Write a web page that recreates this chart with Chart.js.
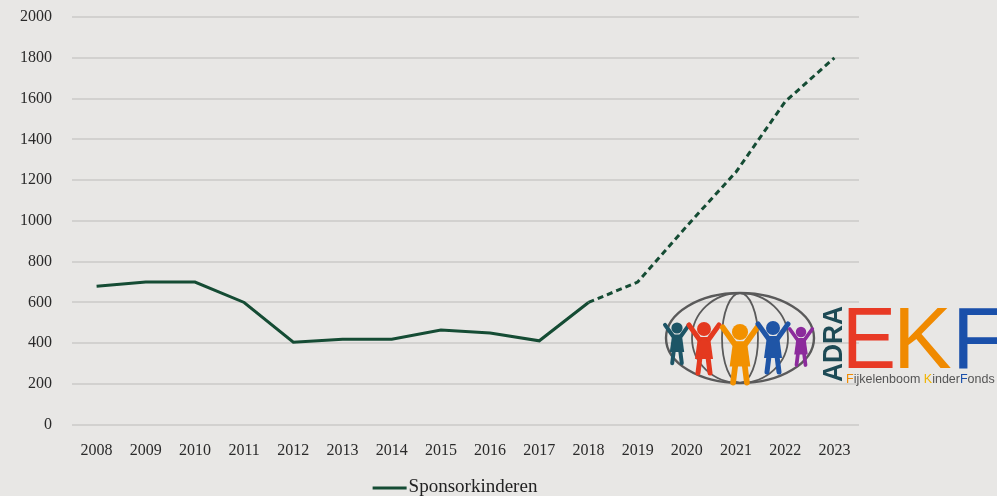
<!DOCTYPE html>
<html>
<head>
<meta charset="utf-8">
<script src="https://cdn.jsdelivr.net/npm/chart.js@4.4.1/dist/chart.umd.min.js"></script>
<style>
  html, body { margin: 0; padding: 0; background: #e8e7e5; }
  #wrap { width: 997px; height: 496px; position: relative; }
</style>
</head>
<body>
<div id="wrap"><canvas id="chart"></canvas></div>
<script>
const years = ["2008", "2009", "2010", "2011", "2012", "2013", "2014", "2015",
  "2016", "2017", "2018", "2019", "2020", "2021", "2022", "2023"];
const sponsorkinderen = [680, 700, 700, 600, 405, 420, 420, 465,
  450, 412, 600, 700, 975, 1240, 1585, 1800];
const lastActual = 10; // 2018: after this the line is a forecast (dashed)
const seriesLabel = "Sponsorkinderen";

const lineColor = "#154c34";
const tickFont = { family: "'Liberation Serif', serif", size: 16 };

// legend drawn by hand: a short line and the series name under the axis
const legendPlugin = {
  id: "bottomLegend",
  afterDraw(chart) {
    const ctx = chart.ctx;
    ctx.save();
    ctx.font = "19px 'Liberation Serif', serif";
    const w = ctx.measureText(seriesLabel).width;
    const total = 34 + 2 + w;
    const x0 = 455 - total / 2;
    const y = 488;
    ctx.strokeStyle = lineColor;
    ctx.lineWidth = 3;
    ctx.beginPath();
    ctx.moveTo(x0, y);
    ctx.lineTo(x0 + 34, y);
    ctx.stroke();
    ctx.fillStyle = "#222";
    ctx.textBaseline = "middle";
    ctx.fillText(seriesLabel, x0 + 36, y - 1);
    ctx.restore();
  }
};

// ADRA EKF logo in the lower right corner
const logoPlugin = {
  id: "logo",
  afterDraw(chart) {
    const ctx = chart.ctx;
    ctx.save();
    const cx = 740, cy = 338;
    ctx.strokeStyle = "#5a5a5a";
    ctx.lineWidth = 2.4;
    ctx.beginPath();
    ctx.ellipse(cx, cy, 74, 45, 0, 0, Math.PI * 2);
    ctx.stroke();
    ctx.lineWidth = 1.8;
    [48, 18].forEach(rx => {
      ctx.beginPath();
      ctx.ellipse(cx, cy, rx, 45, 0, 0, Math.PI * 2);
      ctx.stroke();
    });

    const kids = [
      { x: 677, top: 328, c: "#1d5566", s: 0.8 },
      { x: 704, top: 329, c: "#e4391f", s: 1.0 },
      { x: 740, top: 332, c: "#f29100", s: 1.15 },
      { x: 773, top: 328, c: "#1f55a6", s: 1.0 },
      { x: 801, top: 332, c: "#8c2b9c", s: 0.75 }
    ];
    kids.forEach(k => {
      const s = k.s;
      const top = k.top;
      ctx.fillStyle = k.c;
      ctx.strokeStyle = k.c;
      ctx.lineCap = "round";
      ctx.beginPath();
      ctx.arc(k.x, top, 7 * s, 0, Math.PI * 2);
      ctx.fill();
      // body
      ctx.beginPath();
      ctx.moveTo(k.x - 6 * s, top + 8 * s);
      ctx.lineTo(k.x + 6 * s, top + 8 * s);
      ctx.lineTo(k.x + 9 * s, top + 30 * s);
      ctx.lineTo(k.x - 9 * s, top + 30 * s);
      ctx.closePath();
      ctx.fill();
      // arms
      ctx.lineWidth = 4.5 * s;
      ctx.beginPath();
      ctx.moveTo(k.x - 5 * s, top + 10 * s);
      ctx.lineTo(k.x - 15 * s, top - 4 * s);
      ctx.moveTo(k.x + 5 * s, top + 10 * s);
      ctx.lineTo(k.x + 15 * s, top - 4 * s);
      // legs
      ctx.lineWidth = 5 * s;
      ctx.moveTo(k.x - 4 * s, top + 28 * s);
      ctx.lineTo(k.x - 6 * s, top + 44 * s);
      ctx.moveTo(k.x + 4 * s, top + 28 * s);
      ctx.lineTo(k.x + 6 * s, top + 44 * s);
      ctx.stroke();
    });

    // ADRA, written upwards
    ctx.save();
    ctx.translate(842, 344);
    ctx.rotate(-Math.PI / 2);
    ctx.fillStyle = "#1d4a55";
    ctx.font = "bold 27px 'Liberation Sans', sans-serif";
    ctx.textAlign = "center";
    ctx.textBaseline = "alphabetic";
    ctx.fillText("ADRA", 0, 0, 76);
    ctx.restore();

    ctx.font = "88px 'Liberation Sans', sans-serif";
    ctx.textBaseline = "alphabetic";
    ctx.fillStyle = "#e83a25";
    ctx.fillText("E", 842, 368, 54);
    ctx.fillStyle = "#f08a00";
    ctx.fillText("K", 893, 368, 60);
    ctx.fillStyle = "#1a50aa";
    ctx.fillText("F", 952, 368, 54);

    ctx.font = "12.5px 'Liberation Sans', sans-serif";
    let x = 846;
    [["F", "#f08a00"], ["ijkelenboom ", "#555"], ["K", "#f2b400"], ["inder", "#555"],
     ["F", "#1a50aa"], ["onds", "#555"]].forEach(([t, c]) => {
      ctx.fillStyle = c;
      ctx.fillText(t, x, 383);
      x += ctx.measureText(t).width;
    });
    ctx.restore();
  }
};

new Chart(document.getElementById("chart"), {
  type: "line",
  data: {
    labels: years,
    datasets: [{
      label: seriesLabel,
      data: sponsorkinderen,
      borderColor: lineColor,
      backgroundColor: lineColor,
      borderWidth: 3,
      pointRadius: 0,
      tension: 0,
      fill: false,
      segment: {
        borderDash: ctx => ctx.p0DataIndex >= lastActual ? [6, 4] : undefined
      }
    }]
  },
  options: {
    responsive: true,
    maintainAspectRatio: false,
    animation: false,
    layout: { padding: { top: 17, left: 0, right: 138, bottom: 20 } },
    plugins: {
      legend: { display: false },
      tooltip: { enabled: false }
    },
    scales: {
      x: {
        offset: true,
        grid: { display: false, drawTicks: false },
        border: { display: false },
        ticks: { color: "#2a2a2a", font: tickFont, padding: 16, maxRotation: 0 },
        afterFit: s => { s.paddingLeft = 0; s.paddingRight = 0; }
      },
      y: {
        min: 0,
        max: 2000,
        grid: { color: "#d2d1cf", lineWidth: 2, drawTicks: false },
        border: { display: false },
        ticks: {
          stepSize: 200, color: "#2a2a2a", font: tickFont, padding: 20,
          callback: v => String(v)
        },
        afterFit: s => { s.paddingTop = 0; s.paddingBottom = 0; }
      }
    }
  },
  plugins: [legendPlugin, logoPlugin]
});
</script>
</body>
</html>
